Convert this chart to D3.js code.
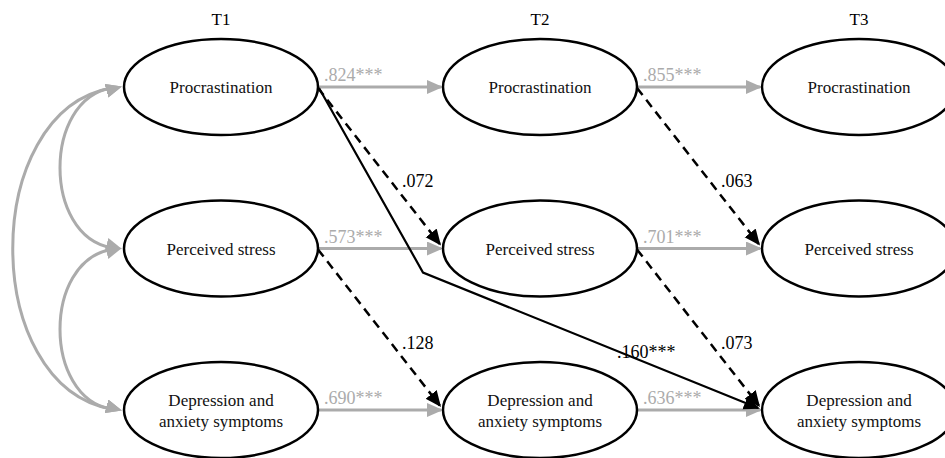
<!DOCTYPE html>
<html>
<head>
<meta charset="utf-8">
<script src="https://cdn.jsdelivr.net/npm/d3@7"></script>
<style>
  body { margin: 0; background: #fff; }
</style>
</head>
<body>
<div id="chart"></div>
<script>
"use strict";

var width = 945;
var height = 458;

// data
var times = ["T1", "T2", "T3"];
var constructs = ["Procrastination", "Perceived stress", "Depression and anxiety symptoms"];
var nodeLines = [["Procrastination"], ["Perceived stress"], ["Depression and", "anxiety symptoms"]];
// autoregressive paths, per construct: T1->T2, T2->T3
var autoregLabels = [[".824***", ".855***"], [".573***", ".701***"], [".690***", ".636***"]];
// cross-lagged (non significant) paths: proc->stress, stress->dep ; per interval
var crossFrom = [0, 1];
var crossLabels = [[".072", ".063"], [".128", ".073"]];
// long path T1 procrastination -> T3 depression
var longLabel = ".160***";
// covariances among T1 constructs
var covPairs = [[0, 2], [0, 1], [1, 2]];

var rx = 97, ry = 48;
var gray = "#ababab";
var serif = "'Liberation Serif', 'Times New Roman', Times, 'DejaVu Serif', serif";

var x = d3.scalePoint().domain(times).range([221, 859]);
var y = d3.scalePoint().domain(constructs).range([87, 410]);

var svg = d3.select("#chart")
  .append("svg")
  .attr("width", width)
  .attr("height", height)
  .style("font-family", serif);

var defs = svg.append("defs");
function addMarker(id, color) {
  defs.append("marker")
    .attr("id", id)
    .attr("markerUnits", "userSpaceOnUse")
    .attr("markerWidth", 17)
    .attr("markerHeight", 15)
    .attr("viewBox", "0 0 17 15")
    .attr("refX", 14)
    .attr("refY", 7)
    .attr("orient", "auto")
    .append("path")
    .attr("d", "M0,0 L16,7 L0,14 Z")
    .attr("fill", color);
}
addMarker("arrGray", gray);
addMarker("arrBlack", "#000");

// covariance curves
covPairs.forEach(function(p) {
  var y0 = y(constructs[p[0]]), y1 = y(constructs[p[1]]);
  var xe = x("T1") - rx - 3;
  var far = (p[1] - p[0]) > 1;
  var cx = far ? -20 : 43;
  var path = d3.path();
  path.moveTo(xe - 10, y0 + 1);
  path.bezierCurveTo(cx, y0 + (far ? 25 : 13), cx, y1 - (far ? 25 : 13), xe - 10, y1 - 1);
  svg.append("path")
    .attr("d", path.toString())
    .attr("fill", "none")
    .attr("stroke", gray)
    .attr("stroke-width", 3);
  // arrowheads at both ends
  [[xe, y0], [xe, y1]].forEach(function(pt, k) {
    var dy = k === 0 ? -3 : 3;
    svg.append("line")
      .attr("x1", pt[0] - 12).attr("y1", pt[1] - dy)
      .attr("x2", pt[0] - 1).attr("y2", pt[1])
      .attr("stroke", "none")
      .attr("marker-end", "url(#arrGray)");
  });
});

// autoregressive gray arrows
constructs.forEach(function(c, i) {
  for (var t = 0; t < 2; t++) {
    var x1 = x(times[t]) + rx, x2 = x(times[t + 1]) - rx;
    svg.append("line")
      .attr("x1", x1).attr("y1", y(c))
      .attr("x2", x2 - 2).attr("y2", y(c))
      .attr("stroke", gray)
      .attr("stroke-width", 3)
      .attr("marker-end", "url(#arrGray)");
    svg.append("text")
      .attr("x", x1 + 6)
      .attr("y", y(c) - 6)
      .attr("fill", gray)
      .attr("font-size", 18)
      .text(autoregLabels[i][t]);
  }
});

// cross-lagged dashed arrows
crossFrom.forEach(function(ci, k) {
  for (var t = 0; t < 2; t++) {
    var sx = x(times[t]) + rx, sy = y(constructs[ci]) + 1;
    var tx = x(times[t + 1]) - rx - 2, ty = y(constructs[ci + 1]) - 3;
    var len = Math.hypot(tx - sx, ty - sy);
    svg.append("line")
      .attr("x1", sx).attr("y1", sy)
      .attr("x2", tx - 2 * (tx - sx) / len).attr("y2", ty - 2 * (ty - sy) / len)
      .attr("stroke", "#000")
      .attr("stroke-width", 2.5)
      .attr("stroke-dasharray", "9,6")
      .attr("marker-end", "url(#arrBlack)");
    svg.append("text")
      .attr("x", sx + 84)
      .attr("y", sy + 99)
      .attr("fill", "#000")
      .attr("font-size", 18)
      .text(crossLabels[k][t]);
  }
});

// long solid path
var p0 = [x("T1") + rx + 1, y(constructs[0]) + 1];
var p1 = [x("T2") - rx - 20, y(constructs[1]) + 24];
var p2 = [x("T3") - rx - 2, y(constructs[2]) - 1];
svg.append("path")
  .attr("d", d3.line()([p0, p1, [p2[0] - 2, p2[1] - 1]]))
  .attr("fill", "none")
  .attr("stroke", "#000")
  .attr("stroke-width", 2.2)
  .attr("marker-end", "url(#arrBlack)");
svg.append("text")
  .attr("x", x("T3") - 242)
  .attr("y", y(constructs[2]) - 52)
  .attr("fill", "#000")
  .attr("font-size", 18)
  .text(longLabel);

// nodes
times.forEach(function(t) {
  svg.append("text")
    .attr("x", x(t))
    .attr("y", 25)
    .attr("text-anchor", "middle")
    .attr("font-size", 17)
    .text(t);

  constructs.forEach(function(c, i) {
    var g = svg.append("g").attr("transform", "translate(" + x(t) + "," + y(c) + ")");
    g.append("ellipse")
      .attr("rx", rx)
      .attr("ry", ry)
      .attr("fill", "#fff")
      .attr("stroke", "#000")
      .attr("stroke-width", 2.5);
    var lines = nodeLines[i];
    lines.forEach(function(l, j) {
      g.append("text")
        .attr("x", 0)
        .attr("y", 6 + (j - (lines.length - 1) / 2) * 21)
        .attr("text-anchor", "middle")
        .attr("font-size", 17)
        .attr("fill", "#111")
        .text(l);
    });
  });
});
</script>
</body>
</html>
